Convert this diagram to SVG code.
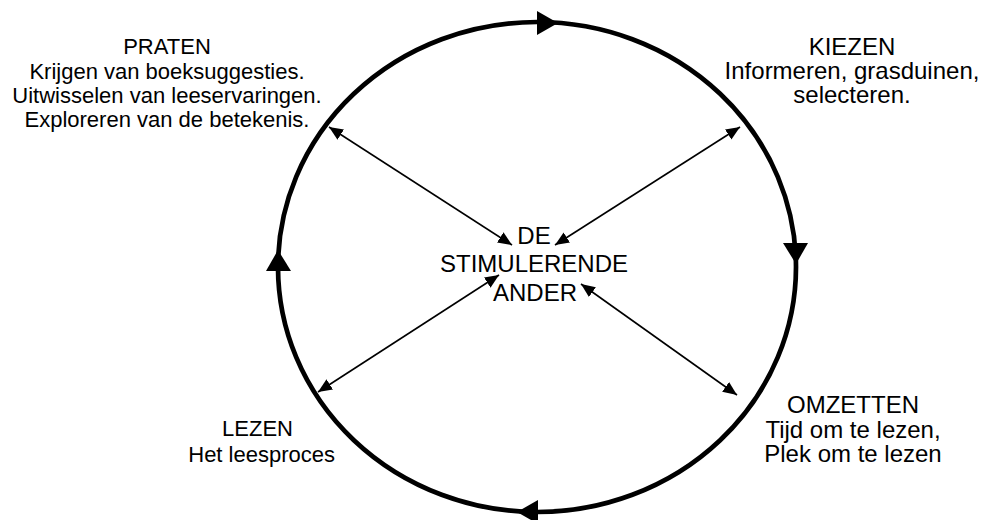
<svg xmlns="http://www.w3.org/2000/svg" width="986" height="520" viewBox="0 0 986 520">
<style>
.t{font-family:"Liberation Sans",Arial,sans-serif;font-size:22px;fill:#000;text-anchor:middle}
.c{font-size:24px}
.e{text-anchor:end}
.ln{stroke:#000;stroke-width:1.6;fill:none;marker-start:url(#ah);marker-end:url(#ah)}
</style>
<defs>
<marker id="ah" viewBox="0 0 14 12" refX="14" refY="6" markerWidth="14" markerHeight="12" markerUnits="userSpaceOnUse" orient="auto-start-reverse">
<path d="M0,0 L14,6 L0,12 Z" fill="#000"/>
</marker>
</defs>
<rect width="986" height="520" fill="#fff"/>
<g id="cycle">
<ellipse cx="537" cy="267" rx="259" ry="245" fill="none" stroke="#000" stroke-width="4.7"/>
<polygon points="537,11 537,35 558,23" fill="#000"/>
<polygon points="783,243 808,243 796,264" fill="#000"/>
<polygon points="538,500 538,524 517,512" fill="#000"/>
<polygon points="266,271 291,271 278,250" fill="#000"/>
</g>
<g id="connectors">
<line class="ln" x1="329" y1="127" x2="512" y2="245"/>
<line class="ln" x1="740" y1="127" x2="555" y2="245"/>
<line class="ln" x1="318" y1="392" x2="499" y2="275"/>
<line class="ln" x1="737" y1="395" x2="581" y2="284"/>
</g>
<g id="center">
<text class="t c" x="534" y="244">DE</text>
<text class="t c" x="534" y="272">STIMULERENDE</text>
<text class="t c" x="535" y="301">ANDER</text>
</g>
<g id="praten">
<text class="t" x="167" y="54">PRATEN</text>
<text class="t" x="167" y="79">Krijgen van boeksuggesties.</text>
<text class="t" x="167" y="103">Uitwisselen van leeservaringen.</text>
<text class="t" x="167" y="127">Exploreren van de betekenis.</text>
</g>
<g id="kiezen">
<text class="t c" x="852" y="55">KIEZEN</text>
<text class="t c" x="852" y="79">Informeren, grasduinen,</text>
<text class="t c" x="852" y="103">selecteren.</text>
</g>
<g id="omzetten">
<text class="t c" x="853" y="413">OMZETTEN</text>
<text class="t c" x="853" y="438">Tijd om te lezen,</text>
<text class="t c" x="853" y="462">Plek om te lezen</text>
</g>
<g id="lezen">
<text class="t e" x="293" y="436" font-size="23">LEZEN</text>
<text class="t e" x="335" y="462" font-size="20">Het leesproces</text>
</g>
</svg>
